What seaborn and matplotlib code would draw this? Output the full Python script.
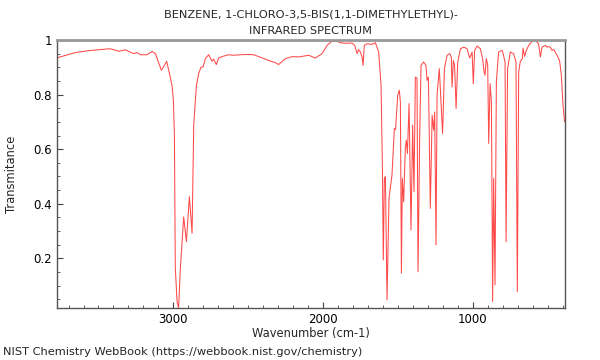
import matplotlib
matplotlib.use("Agg")
import matplotlib.pyplot as plt
import pandas as pd
import seaborn as sns
from matplotlib.ticker import MultipleLocator, FuncFormatter, FixedLocator

title_lines = ["BENZENE, 1-CHLORO-3,5-BIS(1,1-DIMETHYLETHYL)-", "INFRARED SPECTRUM"]
x_label = "Wavenumber (cm-1)"
y_label = "Transmitance"
source_note = "NIST Chemistry WebBook (https://webbook.nist.gov/chemistry)"
x_ticks = [3000, 2000, 1000]
y_ticks = [0.2, 0.4, 0.6, 0.8, 1.0]

wavenumber = [
    3775, 3654, 3566, 3422, 3365, 3320, 3265, 3242, 3220, 3176, 3142, 3120,
    3080, 3062, 3045, 3025, 3008, 3000, 2993, 2987, 2975, 2965, 2953, 2931,
    2913, 2893, 2875, 2864, 2846, 2831, 2815, 2802, 2786, 2764, 2742, 2731,
    2713, 2698, 2664, 2631, 2597, 2553, 2508, 2464, 2419, 2364, 2319, 2297,
    2252, 2207, 2163, 2096, 2052, 2007, 1974, 1940, 1907, 1885, 1851, 1807,
    1789, 1773, 1763, 1751, 1740, 1733, 1725, 1707, 1673, 1651, 1629, 1613,
    1604, 1598, 1591, 1584, 1573, 1560, 1540, 1524, 1516, 1502, 1491, 1484,
    1477, 1471, 1462, 1451, 1444, 1437, 1426, 1413, 1402, 1393, 1384, 1373,
    1366, 1355, 1346, 1329, 1313, 1306, 1297, 1284, 1272, 1262, 1255, 1246,
    1239, 1224, 1202, 1190, 1172, 1155, 1144, 1139, 1130, 1122, 1112, 1101,
    1083, 1061, 1039, 1021, 1005, 997, 988, 972, 950, 935, 925, 919,
    910, 901, 894, 885, 876, 868, 861, 852, 843, 828, 805, 798,
    785, 778, 768, 750, 728, 712, 703, 694, 683, 669, 665, 654,
    643, 627, 605, 583, 561, 549, 538, 516, 504, 487, 471, 460,
    438, 421, 409, 398, 387,
]
transmittance = [
    0.935, 0.954, 0.961, 0.968, 0.959, 0.964, 0.950, 0.954, 0.946, 0.946, 0.958, 0.950,
    0.889, 0.905, 0.922, 0.875, 0.830, 0.780, 0.650, 0.165, 0.040, 0.018, 0.165, 0.352,
    0.261, 0.426, 0.292, 0.688, 0.834, 0.877, 0.901, 0.901, 0.932, 0.946, 0.922, 0.930,
    0.910, 0.934, 0.941, 0.946, 0.944, 0.946, 0.947, 0.946, 0.937, 0.925, 0.917, 0.910,
    0.932, 0.939, 0.938, 0.944, 0.934, 0.950, 0.980, 0.996, 0.995, 0.990, 0.988, 0.989,
    0.980, 0.950, 0.965, 0.956, 0.938, 0.907, 0.980, 0.986, 0.984, 0.990, 0.956, 0.834,
    0.530, 0.194, 0.493, 0.500, 0.048, 0.420, 0.505, 0.676, 0.672, 0.797, 0.816, 0.773,
    0.146, 0.493, 0.407, 0.603, 0.633, 0.584, 0.767, 0.304, 0.688, 0.444, 0.864, 0.860,
    0.151, 0.651, 0.907, 0.919, 0.907, 0.852, 0.864, 0.383, 0.724, 0.670, 0.736, 0.249,
    0.800, 0.895, 0.657, 0.895, 0.944, 0.950, 0.939, 0.828, 0.925, 0.907, 0.749, 0.919,
    0.968, 0.974, 0.968, 0.934, 0.956, 0.840, 0.962, 0.978, 0.968, 0.932, 0.883, 0.871,
    0.932, 0.907, 0.621, 0.840, 0.773, 0.042, 0.493, 0.103, 0.846, 0.956, 0.962, 0.950,
    0.919, 0.261, 0.895, 0.956, 0.950, 0.919, 0.078, 0.883, 0.922, 0.932, 0.970, 0.940,
    0.962, 0.980, 0.995, 0.998, 0.986, 0.938, 0.974, 0.980, 0.974, 0.976, 0.962, 0.965,
    0.944, 0.925, 0.871, 0.761, 0.700,
]

sns.set_theme(style="white")
plt.rcParams['font.family'] = ['DejaVu Sans']

df = pd.DataFrame({"Wavenumber": wavenumber, "Transmittance": transmittance})

fig = plt.figure(figsize=(6, 3.6), dpi=100)
ax = fig.add_axes([57 / 600, 1 - 308 / 360, (564.5 - 57) / 600, (308 - 40) / 360])
sns.lineplot(data=df, x="Wavenumber", y="Transmittance", ax=ax, color="#ff2a2a",
             lw=0.75, alpha=0.85, estimator=None, sort=False)

ax.set_xlim(3777, 388)
ax.set_ylim(0.018, 1.0)

ax.xaxis.set_major_locator(FixedLocator(x_ticks))
ax.xaxis.set_minor_locator(MultipleLocator(100))
ax.yaxis.set_major_locator(FixedLocator(y_ticks))
ax.yaxis.set_minor_locator(MultipleLocator(0.05))
ax.yaxis.set_major_formatter(FuncFormatter(lambda v, p: "1" if abs(v - 1) < 1e-9 else f"{v:.1f}"))

ax.tick_params(axis="both", which="both", direction="in", colors="#444444",
               labelcolor="black", labelsize=8.5)
ax.tick_params(axis="both", which="major", length=4.5, width=0.8)
ax.tick_params(axis="both", which="minor", length=2.2, width=0.6)
ax.tick_params(axis="x", which="both", top=False, bottom=True)
ax.tick_params(axis="y", which="both", left=True, right=False)

for side in ["left", "bottom", "right"]:
    ax.spines[side].set_color("#555555")
    ax.spines[side].set_linewidth(1.0)
ax.spines["top"].set_color("#999999")
ax.spines["top"].set_linewidth(2.0)

ax.set_xlabel(x_label, fontsize=8.3, labelpad=1)
ax.set_ylabel(y_label, fontsize=8.3, labelpad=11)
ax.set_title("\n".join(title_lines), fontsize=8.2, pad=4, linespacing=1.85)

fig.text(3 / 600, 1 - 352 / 360, source_note, fontsize=8.2, ha="left", va="center")

fig.savefig("out.png", dpi=100, facecolor="white")
